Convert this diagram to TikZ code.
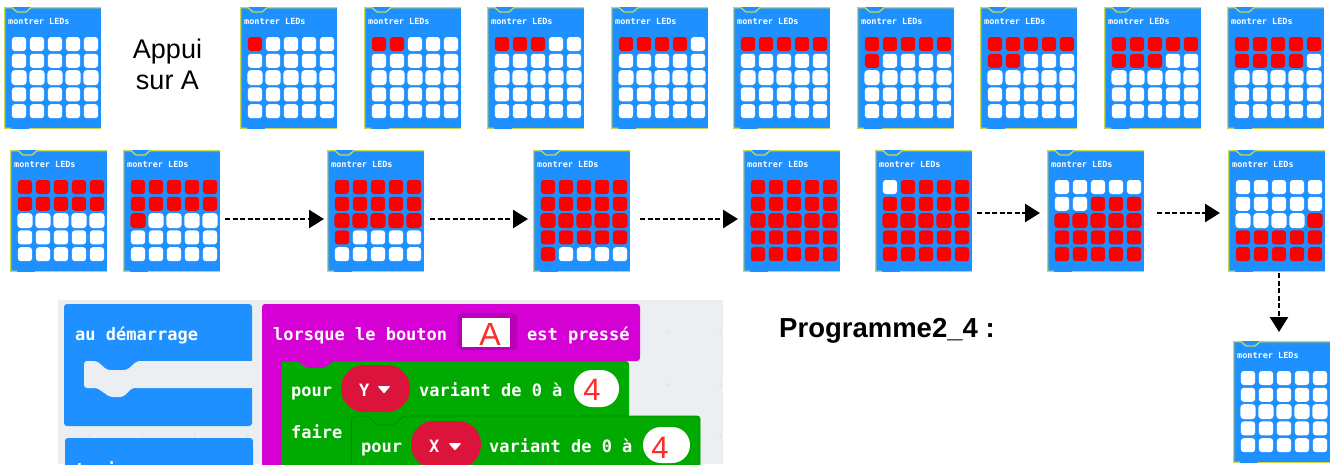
\documentclass[tikz,border=0pt]{standalone}
\usepackage{fontspec}
\setmainfont{Liberation Sans}
\newfontfamily\monob{DejaVu Sans Mono Bold}
\usetikzlibrary{arrows.meta,calc}
\definecolor{cardblue}{HTML}{1E90FF}
\definecolor{cardedge}{HTML}{C6D84E}
\definecolor{ledred}{HTML}{FF0000}
\definecolor{hatbg}{HTML}{ECEFF1}
\definecolor{hatpink}{HTML}{D400D4}
\definecolor{hatdark}{HTML}{B800B8}
\definecolor{loopgreen}{HTML}{00AA00}
\definecolor{loopdark}{HTML}{008C00}
\definecolor{pillred}{HTML}{DC143C}
\definecolor{numred}{HTML}{FF2A2A}
\tikzset{
  x=1pt,y=-1pt,
  cardbox/.style={minimum width=98pt,minimum height=122pt,inner sep=0pt,outer sep=0pt,anchor=north west},
  flowarrow/.style={line width=2.6pt,black,dash pattern=on 5pt off 2.5pt,-{Triangle[length=15pt,width=18pt,sep=0pt]}},
  cardtitle/.style={text=white,font=\monob\fontsize{8.5}{9}\selectfont,anchor=west,inner sep=0pt},
  blocktext/.style={text=white,font=\monob\fontsize{17}{18}\selectfont,anchor=base west,inner sep=0pt},
  bigred/.style={text=numred,font=\fontsize{31}{31}\selectfont,inner sep=0pt,anchor=base},
  plusmark/.style={draw=black!10,line width=.8pt},
}
% #1 name, #2 x, #3 y, #4 reds up to index, #5 whites up to index
\newcommand{\ledcard}[5]{%
  \node[cardbox] (#1) at (#2,#3) {};
  \begin{scope}[shift={(#2,#3)}]
    \fill[cardblue] (0,0) rectangle (97,122);
    \draw[cardedge,line width=1.3pt,line join=round]
      (97,.7) -- (27,.7) -- (22,5) -- (13,5) -- (8,.7) -- (.7,.7) -- (.7,121.3) -- (7,121.3);
    \draw[cardedge,line width=1.3pt] (25,121.3) -- (97,121.3);
    \node[cardtitle] at (4,14.8) {montrer LEDs};
    \foreach \r in {0,1,2,3,4}{
      \foreach \c in {0,1,2,3,4}{
        \pgfmathtruncatemacro{\idx}{5*\r+\c}
        \pgfmathtruncatemacro{\isred}{(\idx<#4 && \idx>=#5) ? 1 : 0}
        \pgfmathsetmacro{\cx}{15+18*\c}
        \pgfmathsetmacro{\cy}{37+16.8*\r}
        \ifnum\isred=1\def\lc{ledred}\else\def\lc{white}\fi
        \ifnum\r=2
          \fill[\lc,rounded corners=3.5pt] (\cx-7.6,\cy-7.5) rectangle (\cx+7.6,\cy+7.5);
        \else
          \fill[\lc,rounded corners=3pt] (\cx-7.1,\cy-7) rectangle (\cx+7.1,\cy+7);
        \fi
      }
    }
  \end{scope}
}
\begin{document}
\begin{tikzpicture}
\useasboundingbox (0,0) rectangle (1333,464);
\fill[white] (0,0) rectangle (1333,464);
% row 1
\ledcard{a0}{4}{7}{0}{0}
\ledcard{a1}{240}{7}{1}{0}
\ledcard{a2}{364}{7}{2}{0}
\ledcard{a3}{487}{7}{3}{0}
\ledcard{a4}{611}{7}{4}{0}
\ledcard{a5}{733}{7}{5}{0}
\ledcard{a6}{857}{7}{6}{0}
\ledcard{a7}{980}{7}{7}{0}
\ledcard{a8}{1104}{7}{8}{0}
\ledcard{a9}{1227}{7}{9}{0}
% row 2
\ledcard{b0}{10}{150}{10}{0}
\ledcard{b1}{123}{150}{11}{0}
\ledcard{b2}{327}{150}{16}{0}
\ledcard{b3}{533}{150}{21}{0}
\ledcard{b4}{743}{150}{25}{0}
\ledcard{b5}{875}{150}{25}{1}
\ledcard{b6}{1047}{150}{25}{7}
\ledcard{b7}{1228}{150}{25}{14}
\ledcard{c0}{1233}{341}{0}{0}
\node[font=\fontsize{27}{31}\selectfont,align=center,inner sep=0pt] (appui) at (167.5,64) {Appui\\sur A};
% arrows
\draw[flowarrow] ($(b1.east)+(4,8)$) -- ($(b2.west)+(-3,8)$);
\draw[flowarrow] ($(b2.east)+(5,8)$) -- ($(b3.west)+(-5,8)$);
\draw[flowarrow] ($(b3.east)+(9,8)$) -- ($(b4.west)+(-5,8)$);
\draw[flowarrow] ($(b5.east)+(4,2)$) -- ($(b6.west)+(-7,2)$);
\draw[flowarrow] ($(b6.east)+(12,2)$) -- ($(b7.west)+(-8,2)$);
\draw[flowarrow] ($(b7.south)+(2,1)$) -- ($(c0.north)+(-3,-9)$);
% title
\node[font=\bfseries\fontsize{27.5}{30}\selectfont,anchor=base west,inner sep=0pt] (prog) at (779,337) {Programme2\_4 :};
% code panel
\begin{scope}
\clip (58,300) rectangle (723,464);
\fill[hatbg] (58,300) rectangle (723,464);
\foreach \px in {668,720}{\foreach \py in {331,384}{
  \draw[plusmark] (\px-3,\py) -- (\px+3,\py) (\px,\py-3) -- (\px,\py+3);}}
\draw[plusmark] (717,436) -- (723,436) (720,433) -- (720,439);
\foreach \px in {89,142,194,247}{
  \draw[plusmark] (\px-3,383) -- (\px+3,383) (\px,380) -- (\px,386);
  \draw[plusmark] (\px-3,435) -- (\px+3,435) (\px,432) -- (\px,438);}
% start block
\fill[cardblue,rounded corners=3pt] (64,304) rectangle (252,426);
\fill[hatbg,rounded corners=3pt] (84,361) -- (97,361) -- (107,370) -- (127,370) -- (137,361) -- (262,361) -- (262,388) -- (132,388) -- (123,397) -- (110,397) -- (97,388) -- (84,388) -- cycle;
\node[blocktext] at (75,340) {au démarrage};
\fill[cardblue,rounded corners=3pt] (65,438) rectangle (253,480);
\node[blocktext] at (75,475) {toujours};
% event block
\fill[hatpink,rounded corners=3pt] (262,304) rectangle (640,361);
\fill[hatpink] (262,350) rectangle (340,375);
\fill[hatpink] (262,350) rectangle (281,480);
\node[blocktext] at (273,340) {lorsque le bouton};
\fill[hatdark,rounded corners=4pt] (458,313) rectangle (517,350);
\fill[white] (462,318) rectangle (510,347);
\node[bigred,font=\fontsize{32}{32}\selectfont] (ka) at (490,345) {A};
\node[blocktext] at (527,340) {est pressé};
% outer loop
\fill[loopgreen,rounded corners=3pt] (281,361) -- (298,361) -- (306,368) -- (325,368) -- (333,361) -- (629,361) -- (629,420) -- (420,420) -- (420,480) -- (281,480) -- cycle;
\node[blocktext] at (291,396) {pour};
\fill[pillred,rounded corners=23pt] (341,365) rectangle (410,412);
\node[blocktext] at (359,396) {Y};
\fill[white,rounded corners=1pt] (377.5,386) -- (390.5,386) -- (384,393.5) -- cycle;
\node[blocktext] at (419,396) {variant de 0 à};
\fill[white,rounded corners=18pt] (574,370) rectangle (619,407);
\node[bigred] (n1) at (592,400) {4};
\node[blocktext] at (291,438) {faire};
% inner loop
\fill[loopgreen,draw=loopdark,line width=.7pt,rounded corners=3pt] (351.5,416) -- (368,416) -- (377,425) -- (394,425) -- (403,416) -- (700,416) -- (700,480) -- (351.5,480) -- cycle;
\node[blocktext] at (361,452) {pour};
\fill[pillred,rounded corners=23pt] (411,421) rectangle (481,468);
\node[blocktext] at (429,452) {X};
\fill[white,rounded corners=1pt] (448.5,443) -- (461.5,443) -- (455,450.5) -- cycle;
\node[blocktext] at (489,452) {variant de 0 à};
\fill[white,rounded corners=18pt] (643,427) rectangle (690,463);
\node[bigred] (n2) at (660,458) {4};
\end{scope}
\end{tikzpicture}
\end{document}
